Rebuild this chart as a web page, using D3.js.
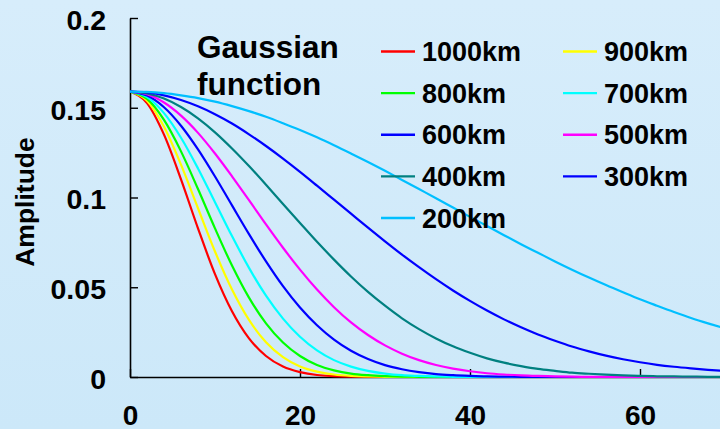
<!DOCTYPE html>
<html>
<head>
<meta charset="utf-8">
<script src="https://cdn.jsdelivr.net/npm/d3@7"></script>
<style>
html,body{margin:0;padding:0;}
body{width:720px;height:429px;overflow:hidden;}
svg{display:block;}
text{font-family:"Liberation Sans",Arial,sans-serif;fill:#000;}
</style>
</head>
<body>
<svg id="chart" width="720" height="429"></svg>
<script>
// ---- data ----
const xValues = [0,2,4,6,8,10,12,14,16,18,20,22,24,26,28,30,32,34,36,38,40,42,44,46,48,50,52,54,56,58,60,62,64,66,68,70];

const km1000 = [0.159,0.1526,0.1350,0.1101,0.0828,0.0573,0.0366,0.0215,0.0117,0.0058,0.0027,0.0011,0.0005,0.0002,0.0001,0,0,0,0,0,0,0,0,0,0,0,0,0,0,0,0,0,0,0,0,0];
const km900  = [0.159,0.1539,0.1394,0.1183,0.0940,0.0699,0.0487,0.0318,0.0194,0.0111,0.0059,0.0030,0.0014,0.0006,0.0003,0.0001,0,0,0,0,0,0,0,0,0,0,0,0,0,0,0,0,0,0,0,0];
const km800  = [0.159,0.1549,0.1432,0.1257,0.1047,0.0828,0.0621,0.0442,0.0299,0.0192,0.0117,0.0067,0.0037,0.0019,0.0010,0.0005,0.0002,0.0001,0,0,0,0,0,0,0,0,0,0,0,0,0,0,0,0,0,0];
const km700  = [0.159,0.1559,0.1470,0.1333,0.1162,0.0974,0.0785,0.0608,0.0453,0.0325,0.0224,0.0148,0.0094,0.0058,0.0034,0.0019,0.0010,0.0006,0.0003,0.0001,0,0,0,0,0,0,0,0,0,0,0,0,0,0,0,0];
const km600  = [0.159,0.1568,0.1503,0.1400,0.1268,0.1117,0.0956,0.0796,0.0644,0.0506,0.0387,0.0288,0.0208,0.0146,0.0100,0.0066,0.0043,0.0027,0.0016,0.0010,0.0006,0.0003,0.0002,0.0001,0,0,0,0,0,0,0,0,0,0,0,0];
const km500  = [0.159,0.1575,0.1529,0.1456,0.1360,0.1245,0.1118,0.0985,0.0850,0.0720,0.0598,0.0487,0.0389,0.0304,0.0234,0.0176,0.0130,0.0094,0.0067,0.0047,0.0032,0.0021,0.0014,0.0009,0.0006,0.0004,0.0002,0.0001,0.0001,0,0,0,0,0,0,0];
const km400  = [0.159,0.1580,0.1551,0.1504,0.1441,0.1363,0.1273,0.1175,0.1071,0.0964,0.0858,0.0753,0.0654,0.0560,0.0474,0.0397,0.0327,0.0267,0.0215,0.0171,0.0135,0.0104,0.0080,0.0061,0.0045,0.0034,0.0024,0.0018,0.0013,0.0009,0.0006,0.0004,0.0003,0.0002,0.0001,0.0001];
const km300  = [0.159,0.1585,0.1569,0.1543,0.1508,0.1464,0.1412,0.1352,0.1287,0.1217,0.1143,0.1066,0.0988,0.0910,0.0832,0.0756,0.0682,0.0612,0.0545,0.0482,0.0424,0.0370,0.0321,0.0277,0.0237,0.0202,0.0170,0.0143,0.0119,0.0099,0.0082,0.0068,0.0057,0.0048,0.0040,0.0033];
const km200  = [0.159,0.1588,0.1581,0.1569,0.1554,0.1534,0.1509,0.1481,0.1450,0.1414,0.1376,0.1335,0.1291,0.1245,0.1198,0.1149,0.1098,0.1047,0.0996,0.0944,0.0892,0.0841,0.0790,0.0740,0.0692,0.0644,0.0598,0.0554,0.0512,0.0472,0.0433,0.0397,0.0362,0.0329,0.0299,0.0271];

const seriesNames = ["1000km","900km","800km","700km","600km","500km","400km","300km","200km"];
const seriesValues = [km1000,km900,km800,km700,km600,km500,km400,km300,km200];
const seriesColors = ["#ff0000","#ffff00","#00ff00","#00ffff","#0000ff","#ff00ff","#008080","#0000ff","#00bfff"];

const xTicks = [0,20,40,60];
const yTicks = [0,0.05,0.1,0.15,0.2];
const yTickLabels = ["0","0.05","0.1","0.15","0.2"];
const titleLines = ["Gaussian","function"];
const yTitle = "Amplitude";

// legend layout: column 1 then column 2
const legendCol1 = ["1000km","800km","600km","400km","200km"];
const legendCol2 = ["900km","700km","500km","300km"];

// ---- drawing ----
const W = 720, H = 429;
const svg = d3.select("#chart");

const defs = svg.append("defs");
const grad = defs.append("linearGradient").attr("id","bg").attr("x1",0).attr("y1",0).attr("x2",0).attr("y2",1);
grad.append("stop").attr("offset","0%").attr("stop-color","#d7edfb");
grad.append("stop").attr("offset","100%").attr("stop-color","#cce8f9");
svg.append("rect").attr("width",W).attr("height",H).attr("fill","url(#bg)");

const x = d3.scaleLinear().domain([0,80]).range([130,810]);
const y = d3.scaleLinear().domain([0,0.2]).range([377,18]);

defs.append("clipPath").attr("id","plot")
  .append("rect").attr("x",130).attr("y",10).attr("width",W-130).attr("height",370);

// axes
const yAxis = d3.axisLeft(y).tickValues(yTicks)
  .tickFormat((d,i)=>yTickLabels[i]).tickSizeInner(-8).tickSizeOuter(0).tickPadding(24);
const gy = svg.append("g").attr("transform","translate(130,0)").call(yAxis);
gy.select(".domain").attr("stroke","#000").attr("stroke-width",1.6);
gy.selectAll(".tick line").attr("stroke","#000").attr("stroke-width",1.4);
gy.selectAll(".tick text").attr("font-size","28.5px").attr("font-weight","bold")
  .attr("font-family","Liberation Sans, Arial, sans-serif").attr("dy","0.40em");

const xAxis = d3.axisBottom(x).tickValues(xTicks).tickFormat(d3.format("d"))
  .tickSizeInner(-8).tickSizeOuter(0).tickPadding(28);
const gx = svg.append("g").attr("transform","translate(0,377)").call(xAxis);
gx.select(".domain").attr("stroke","#000").attr("stroke-width",1.6);
gx.selectAll(".tick line").attr("stroke","#000").attr("stroke-width",1.4);
gx.selectAll(".tick text").attr("font-size","28px").attr("font-weight","bold")
  .attr("font-family","Liberation Sans, Arial, sans-serif");

// lines
const line = d3.line().x((d,i)=>x(xValues[i])).y(d=>y(d)).curve(d3.curveMonotoneX);
const gl = svg.append("g").attr("clip-path","url(#plot)");
seriesValues.forEach((vals,k)=>{
  gl.append("path").datum(vals).attr("d",line)
    .attr("fill","none").attr("stroke",seriesColors[k]).attr("stroke-width",2.2)
    .attr("stroke-linejoin","round");
});

// title
svg.append("text").attr("x",197).attr("y",58).attr("font-size","31.5px").attr("font-weight","bold").text(titleLines[0]);
svg.append("text").attr("x",197).attr("y",95).attr("font-size","31.5px").attr("font-weight","bold").text(titleLines[1]);

// y title
svg.append("text").attr("transform","translate(34,202) rotate(-90)")
  .attr("text-anchor","middle").attr("font-size","26.5px").attr("font-weight","bold").text(yTitle);

// legend
const rowY = d3.scaleLinear().domain([0,4]).range([51.5,218]);
function legendColumn(names, lx, tx){
  names.forEach((n,i)=>{
    const k = seriesNames.indexOf(n);
    svg.append("line").attr("x1",lx).attr("x2",lx+34).attr("y1",rowY(i)).attr("y2",rowY(i))
      .attr("stroke",seriesColors[k]).attr("stroke-width",2.4);
    svg.append("text").attr("x",tx).attr("y",rowY(i)).attr("dy","0.36em")
      .attr("font-size","27px").attr("font-weight","bold").text(n);
  });
}
legendColumn(legendCol1, 381, 422);
legendColumn(legendCol2, 563, 604);
</script>
</body>
</html>
